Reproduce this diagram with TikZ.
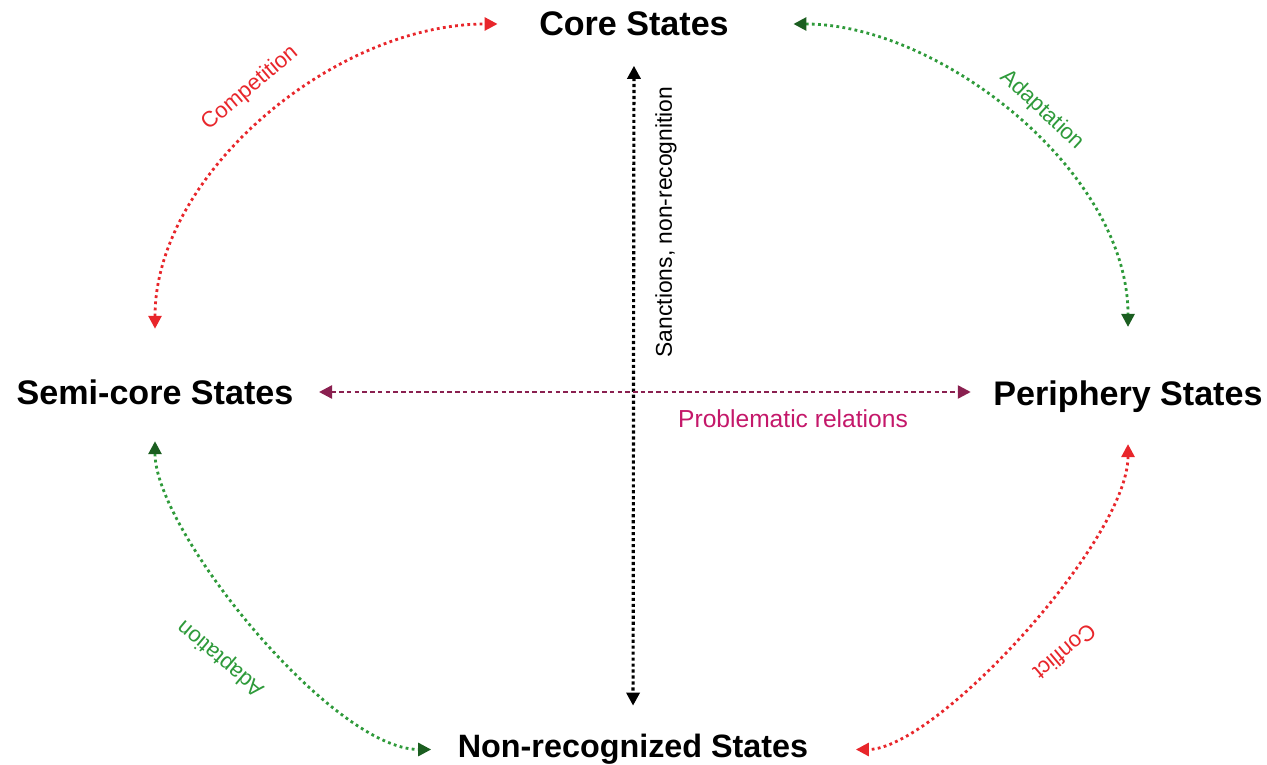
\documentclass[tikz,border=0pt]{standalone}
\usepackage{fontspec}
\setmainfont{Liberation Sans}
\usetikzlibrary{arrows.meta}

\definecolor{conflictred}{HTML}{E8262B}
\definecolor{adaptgreen}{HTML}{2E9A3A}
\definecolor{tipgreen}{HTML}{1B5E20}
\definecolor{probline}{HTML}{8A2050}
\definecolor{probtext}{HTML}{C4186A}

\tikzset{
  state/.style={font=\fontsize{9.7}{11}\selectfont\bfseries, inner sep=0pt},
  rellabel/.style={font=\fontsize{6.3}{7}\selectfont, inner sep=0pt},
  rel/.style={line width=0.8pt, dash pattern=on 0.8pt off 0.95pt, <->,
    >={Triangle[length=1.3mm,width=1.3mm]}},
  relgreen/.style={rel, draw=adaptgreen,
    >={Triangle[length=1.3mm,width=1.3mm,color=tipgreen]}},
}

\begin{document}
\begin{tikzpicture}[x=0.1mm, y=0.1mm]
  \useasboundingbox (0,0) rectangle (1267,764);

  % the four groups of states
  \node[state] (core)   at (634,740)   {Core States};
  \node[state] (semi)   at (155,372)   {Semi-core States};
  \node[state] (peri)   at (1128,367.5) {Periphery States};
  \node[state, font=\fontsize{9.2}{11}\selectfont\bfseries] (nonrec) at (633,14.5) {Non-recognized States};

  % arcs round the outside
  \draw[rel, conflictred, shorten <=5mm, shorten >=4.1mm]
    (semi.north) to[out=90, in=180] (core.west);
  \draw[relgreen, shorten <=6.4mm, shorten >=5.3mm]
    (core.east) to[out=0, in=90] (peri.north);
  \draw[relgreen, shorten <=3.6mm, shorten >=2.6mm]
    (semi.south) to[out=-90, in=180, looseness=0.7] (nonrec.west);
  \draw[rel, conflictred, shorten <=3.1mm, shorten >=4.7mm]
    (peri.south) to[out=-90, in=0, looseness=0.7] (nonrec.east);

  % the two axes
  \draw[rel, black, line width=0.9pt, dash pattern=on 0.9pt off 0.8pt,
    shorten <=2.9mm, shorten >=2.8mm] (core.south) -- (nonrec.north);
  \draw[rel, probline, line width=0.7pt, dash pattern=on 1.3pt off 0.9pt,
    shorten <=2.5mm, shorten >=2.2mm] (semi.east) -- (peri.west |- semi.east);

  % labels
  \node[rellabel, conflictred, rotate=40]  (competition) at (250,676) {Competition};
  \node[rellabel, adaptgreen, rotate=-43]  (adapttop)    at (1042,654) {Adaptation};
  \node[rellabel, adaptgreen, rotate=140]  (adaptbottom) at (221,106) {Adaptation};
  \node[rellabel, conflictred, rotate=220] (conflict)    at (1065,112) {Conflict};
  \node[rellabel, font=\fontsize{6.5}{7}\selectfont, rotate=90] (sanctions) at (666,542) {Sanctions, non-recognition};
  \node[rellabel, probtext, font=\fontsize{7}{8}\selectfont] (problematic) at (793,345) {Problematic relations};
\end{tikzpicture}
\end{document}
